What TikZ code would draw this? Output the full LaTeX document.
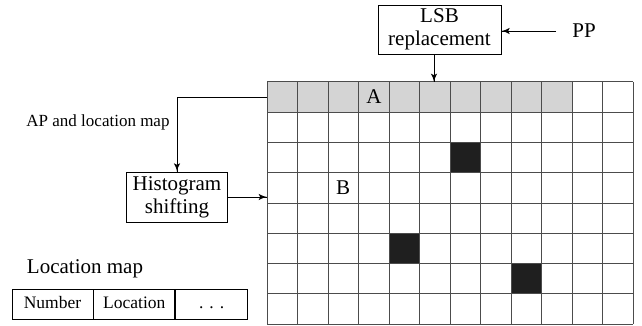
\documentclass[tikz,border=0pt]{standalone}
\usepackage{fontspec}
\setmainfont{Liberation Serif}
\usetikzlibrary{arrows}
\usetikzlibrary{decorations.markings}
\usetikzlibrary{positioning}
\tikzset{->/.style = {decoration={markings,
                                  mark=at position 1 with {\arrow[scale=1.6]{latex'}}},
                      postaction={decorate}}}
\tikzset{procbox/.style={draw, line width=0.8pt, align=center, inner sep=0,
                         font=\fontsize{21}{23}\selectfont}}
\tikzset{mapcell/.style={draw, line width=0.8pt, minimum height=30, inner sep=0,
                         text height=12, text depth=3.5,
                         font=\fontsize{17.5}{20}\selectfont}}
\tikzset{gridline/.style={draw=black!70, line width=1pt}}
\tikzset{celltext/.style={font=\fontsize{21}{23}\selectfont}}

\begin{document}
\begin{tikzpicture}[x=1pt, y=-1pt]
      \useasboundingbox (0,0) rectangle (642,326);

      \foreach \c in {0,...,9}
        \fill[black!17] (267+30.5*\c, 82) rectangle ++(30.5, 30.25);
      \foreach \c/\r in {6/2, 4/5, 8/6}
        \fill[black!88] (267+30.5*\c, 82+30.25*\r) rectangle ++(30.5, 30.25);
      \foreach \i in {0,...,12}
        \draw[gridline] (267+30.5*\i, 82) -- ++(0, 242);
      \foreach \j in {0,...,8}
        \draw[gridline] (267, 82+30.25*\j) -- ++(366, 0);

      \node [celltext] (a) at (374, 97) {A};
      \node [celltext] (b) at (343, 188) {B};

      \node [procbox, minimum width=123, minimum height=49] (lsb) at (439.5, 29.5) {LSB\\replacement};
      \node [celltext, inner sep=2] (pp) at (584, 31) {PP};
      \node [procbox, minimum width=101, minimum height=50] (hist) at (177, 197) {Histogram\\shifting};
      \node [font=\fontsize{17}{19}\selectfont] (aplabel) at (98, 122) {AP and location map};

      \node [font=\fontsize{21}{23}\selectfont] (maplabel) at (85, 269) {Location map};
      \node [mapcell, minimum width=81] (num) at (52.5, 304) {Number};
      \node [mapcell, minimum width=81, right=0 of num] (loc) {Location};
      \node [mapcell, minimum width=72, right=0 of loc] (more) {.\hspace{6pt}.\hspace{6pt}.};

      \coordinate (gtop) at (434, 82);
      \coordinate (arow) at (267, 97);
      \coordinate (brow) at (267, 197);

      \draw [->, line width=0.8pt] (gtop |- lsb.south) -- (gtop);
      \draw [->, line width=0.8pt] ([xshift=-14]pp.west) -- (pp.west -| lsb.east);
      \draw [->, line width=0.8pt] (arow) -| (hist);
      \draw [->, line width=0.8pt] (hist) -- (brow);
    \end{tikzpicture}
\end{document}
